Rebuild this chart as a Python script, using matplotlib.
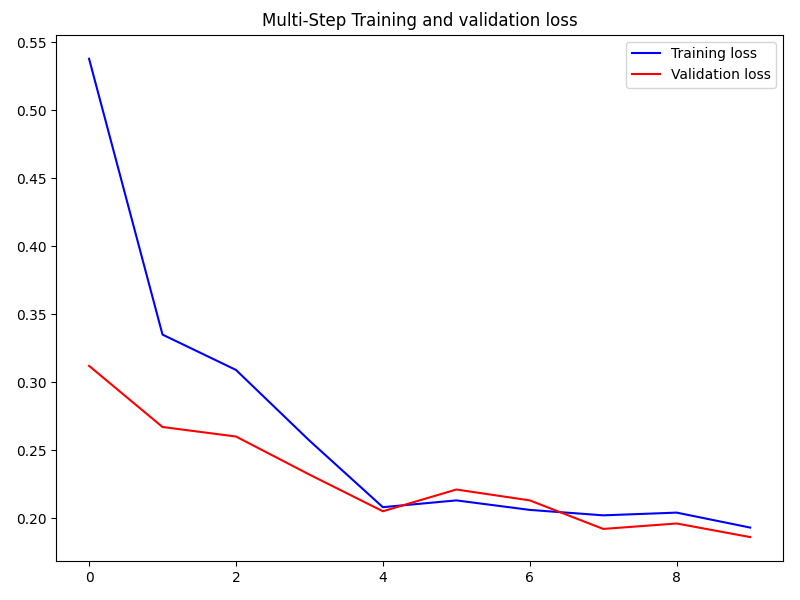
import matplotlib
matplotlib.use("Agg")
import matplotlib.pyplot as plt

epochs = list(range(10))
training_loss = [0.538, 0.335, 0.309, 0.257, 0.208, 0.213, 0.206, 0.202, 0.204, 0.193]
validation_loss = [0.312, 0.267, 0.260, 0.232, 0.205, 0.221, 0.213, 0.192, 0.196, 0.186]

plt.figure(figsize=(8, 6), dpi=100)
plt.plot(epochs, training_loss, "b", label="Training loss")
plt.plot(epochs, validation_loss, "r", label="Validation loss")
plt.title("Multi-Step Training and validation loss")
plt.legend()
plt.subplots_adjust(left=0.07, right=0.979, top=0.942, bottom=0.065)
plt.savefig("out.png")
